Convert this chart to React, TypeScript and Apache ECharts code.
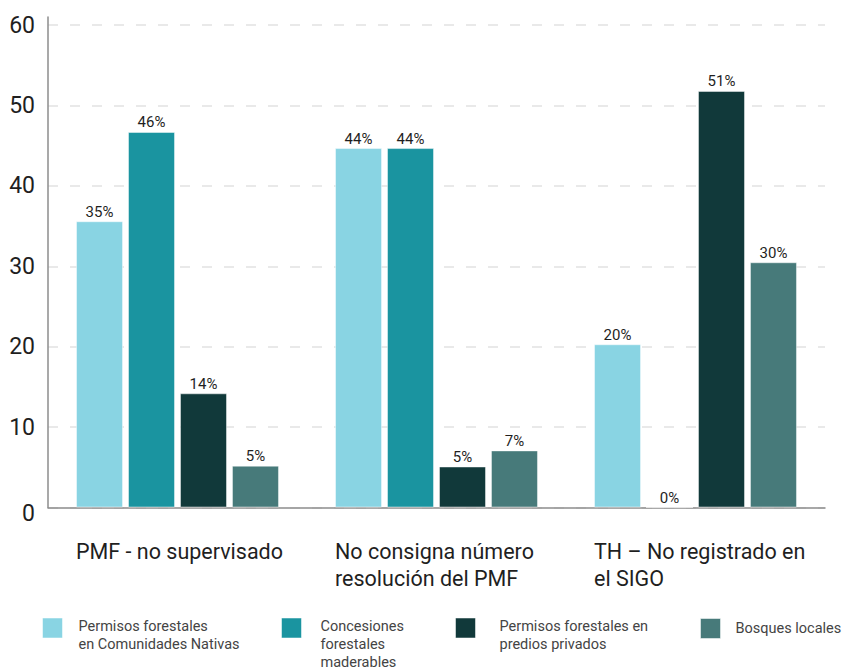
import React, { useEffect, useRef } from 'react';
import * as echarts from 'echarts';

const categories = [
  'PMF - no supervisado',
  'No consigna número\nresolución del PMF',
  'TH – No registrado en\nel SIGO',
];
const seriesNames = [
  'Permisos forestales\nen Comunidades Nativas',
  'Concesiones\nforestales\nmaderables',
  'Permisos forestales en\npredios privados',
  'Bosques locales',
];
const nativas = [35.6, 44.7, 20.3];
const concesiones = [46.7, 44.7, 0];
const privados = [14.2, 5.1, 51.8];
const locales = [5.2, 7.1, 30.5];
const nativasLabels = ['35%', '44%', '20%'];
const concesionesLabels = ['46%', '44%', '0%'];
const privadosLabels = ['14%', '5%', '51%'];
const localesLabels = ['5%', '7%', '30%'];
const colors = ['#89D4E3', '#1A94A0', '#11393A', '#477A7A'];

const legendLeft = [42, 281, 455, 700];
const legendTop = [603, 585, 603, 618];
const legendPadTop = [14, 32, 14, 0];
const legendPadLeft = [11, 14, 19, 10];

export default function App() {
  const ref = useRef<HTMLDivElement>(null);
  useEffect(() => {
    if (!ref.current) return;
    const chart = echarts.init(ref.current, undefined, { renderer: 'svg' });
    const values = [nativas, concesiones, privados, locales];
    const labels = [nativasLabels, concesionesLabels, privadosLabels, localesLabels];
    const font = 'Roboto, "Noto Sans", sans-serif';
    chart.setOption({
      animation: false,
      textStyle: { fontFamily: font },
      grid: { left: 48, right: 18, top: 17, bottom: 162.5, containLabel: false },
      legend: seriesNames.map((name, i) => ({
        data: [name],
        left: legendLeft[i],
        top: legendTop[i],
        padding: 0,
        itemWidth: 20,
        itemHeight: 20,
        icon: 'rect',
        selectedMode: false,
        itemStyle: { borderColor: 'rgba(255,255,255,0.5)', borderWidth: 1 },
        formatter: (n: string) => n.split('\n').map((s) => `{t|${s}}`).join('\n'),
        textStyle: {
          fontSize: 14.5,
          color: '#444',
          fontFamily: font,
          lineHeight: 18,
          padding: [legendPadTop[i], 0, 0, legendPadLeft[i]],
          rich: { t: { fontSize: 14.5, color: '#444', lineHeight: 18, fontFamily: font } },
        },
      })),
      xAxis: {
        type: 'category',
        data: categories,
        axisLine: { show: true, lineStyle: { color: '#8c8c8c', width: 1.5 } },
        axisTick: { show: false },
        axisLabel: {
          interval: 0,
          margin: 30,
          width: 203,
          align: 'center',
          formatter: (v: string) => v.split('\n').map((s) => `{a|${s}}`).join('\n'),
          rich: {
            a: { align: 'left', fontSize: 21.5, lineHeight: 27, color: '#1f1f1f', fontFamily: font },
          },
        },
      },
      yAxis: {
        type: 'value',
        min: 0,
        max: 61,
        interval: 10,
        axisLine: { show: true, lineStyle: { color: '#8c8c8c', width: 1.5 } },
        axisTick: { show: false },
        axisLabel: {
          showMaxLabel: false,
          margin: 13,
          fontSize: 23,
          color: '#1f1f1f',
          fontFamily: font,
          formatter: (v: number) => (v === 0 ? '{z|0}' : String(v)),
          rich: { z: { fontSize: 23, color: '#1f1f1f', padding: [12, 0, 0, 0], fontFamily: font } },
        },
        splitLine: {
          show: true,
          showMaxLine: false,
          lineStyle: { color: '#e2e2e2', width: 1.5, type: [10, 12] },
        },
      },
      series: seriesNames.map((name, i) => ({
        name,
        type: 'bar',
        data: values[i],
        barWidth: 47,
        barGap: '10.6%',
        itemStyle: { color: colors[i], borderColor: 'rgba(255,255,255,0.45)', borderWidth: 1 },
        label: {
          show: true,
          position: 'top',
          distance: 2,
          fontSize: 15,
          color: '#1f1f1f',
          fontFamily: font,
          formatter: (p: any) => labels[i][p.dataIndex],
        },
      })),
    });
    return () => chart.dispose();
  }, []);
  return <div ref={ref} style={{ width: 843, height: 670, position: 'absolute', left: 0, top: 0 }} />;
}
